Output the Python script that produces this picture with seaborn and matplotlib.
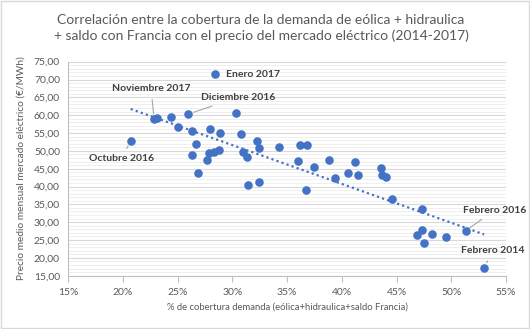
import matplotlib
matplotlib.use("Agg")
import matplotlib.pyplot as plt
import seaborn as sns
import pandas as pd
from matplotlib.ticker import MultipleLocator, FuncFormatter
from matplotlib.patches import Rectangle

# % de cobertura de demanda (eólica + hidráulica + saldo Francia)
cobertura = [20.7, 22.85, 23.1, 24.4, 25.0, 25.95, 26.3, 26.65, 26.3, 26.85,
             27.7, 27.86, 28.35, 28.75, 27.95, 28.9, 28.4, 30.3, 30.8, 31.0,
             31.33, 31.4, 32.2, 32.4, 32.46, 34.26, 36.15, 36.8, 36.0, 37.46,
             38.85, 36.7, 41.2, 39.4, 40.57, 41.5, 43.6, 43.67, 44.0, 44.55,
             47.3, 46.87, 47.3, 48.2, 47.55, 49.5, 51.3, 53.0]
# Precio medio mensual del mercado eléctrico (€/MWh)
precio = [52.8, 58.8, 59.1, 59.6, 56.7, 60.3, 55.6, 51.8, 48.8, 43.7,
          47.4, 49.3, 49.8, 50.3, 56.1, 55.1, 71.5, 60.7, 54.8, 49.8,
          48.2, 40.45, 52.8, 50.9, 41.3, 51.15, 51.65, 51.65, 47.2, 45.35,
          47.4, 39.0, 47.0, 42.3, 43.7, 43.2, 45.1, 43.2, 42.6, 36.5,
          33.6, 26.5, 27.8, 26.8, 24.2, 25.9, 27.6, 17.25]

etiquetas = ["Enero 2017", "Diciembre 2016", "Noviembre 2017", "Octubre 2016",
             "Febrero 2016", "Febrero 2014"]
etiqueta_idx = [16, 5, 1, 0, 46, 47]

titulo = ("Correlación entre la cobertura de la demanda de eólica + hidraulica\n"
          "+ saldo con Francia con el precio del mercado eléctrico (2014-2017)")
x_label = "% de cobertura demanda (eólica+hidraulica+saldo Francia)"
y_label = "Precio medio mensual mercado eléctrico (€/MWh)"

df = pd.DataFrame({"cobertura": cobertura, "precio": precio})

sns.set_theme(style="white")
plt.rcParams['font.family'] = ['Lato', 'DejaVu Sans']

blue = "#4472C4"
gray_txt = "#595959"

fig = plt.figure(figsize=(5.3, 3.29), dpi=100)
fig.patch.set_facecolor("white")
ax = fig.add_axes([0.1289, 0.1620, 0.8258, 0.6505])

sns.regplot(data=df, x="cobertura", y="precio", scatter=False, ci=None, ax=ax,
            line_kws=dict(color=blue, lw=1.6, ls=(0, (1, 1.4))))
sns.scatterplot(data=df, x="cobertura", y="precio", ax=ax, color=blue, s=38,
                edgecolor=blue, linewidth=0, zorder=3)

ax.set_xlim(15, 55)
ax.set_ylim(15, 75)
ax.xaxis.set_major_locator(MultipleLocator(5))
ax.yaxis.set_major_locator(MultipleLocator(5))
ax.yaxis.set_minor_locator(MultipleLocator(1))
ax.xaxis.set_major_formatter(FuncFormatter(lambda v, p: f"{v:.0f}%"))
ax.yaxis.set_major_formatter(FuncFormatter(lambda v, p: f"{v:.2f}".replace(".", ",")))
ax.grid(which="major", axis="y", color="#d9d9d9", lw=0.8)
ax.grid(which="minor", axis="y", color="#ededed", lw=0.6)
ax.grid(which="both", axis="x", visible=False)
ax.set_axisbelow(True)
for s in ["top", "right"]:
    ax.spines[s].set_visible(False)
for s in ["left", "bottom"]:
    ax.spines[s].set_color("#bfbfbf")
    ax.spines[s].set_linewidth(0.8)
ax.tick_params(axis="x", which="major", length=4, width=0.8, color="#bfbfbf",
               labelsize=7.5, labelcolor=gray_txt, pad=5, direction="out", bottom=True)
ax.tick_params(axis="y", which="both", length=0, labelsize=7.5,
               labelcolor=gray_txt, pad=6)
ax.set_xlabel("")
ax.set_ylabel("")

fig.text(261 / 530, 1 - 28 / 329, titulo, ha="center", va="center",
         fontsize=10, color=gray_txt, linespacing=1.35)
fig.text(287.5 / 530, 1 - 306.7 / 329, x_label, ha="center", va="center",
         fontsize=6.8, color=gray_txt)
fig.text(21 / 530, 1 - 168.5 / 329, y_label, ha="center", va="center",
         rotation=90, fontsize=7.3, color=gray_txt)

# annotation text positions (data coords) and leader settings
txt_pos = [(29.4, 71.4, "left", False), (27.1, 65.0, "left", True),
           (22.56, 67.35, "center", True), (19.85, 47.8, "center", True),
           (54.0, 33.4, "center", True), (53.8, 22.0, "center", True)]
for lab, idx, (tx, ty, ha, lead) in zip(etiquetas, etiqueta_idx, txt_pos):
    px, py = cobertura[idx], precio[idx]
    if lead:
        ax.annotate(lab, xy=(px, py), xytext=(tx, ty), ha=ha, va="center",
                    fontsize=7.5, fontweight="bold", color="#404040",
                    annotation_clip=False,
                    arrowprops=dict(arrowstyle="-", color="#a6a6a6", lw=0.8,
                                    shrinkA=2, shrinkB=4))
    else:
        ax.text(tx, ty, lab, ha=ha, va="center", fontsize=7.5,
                fontweight="bold", color="#404040", clip_on=False)

fig.patches.append(Rectangle((0.002, 0.003), 0.996, 0.994, transform=fig.transFigure,
                             fill=False, edgecolor="#d9d9d9", lw=1))

fig.savefig("out.png", dpi=100)
